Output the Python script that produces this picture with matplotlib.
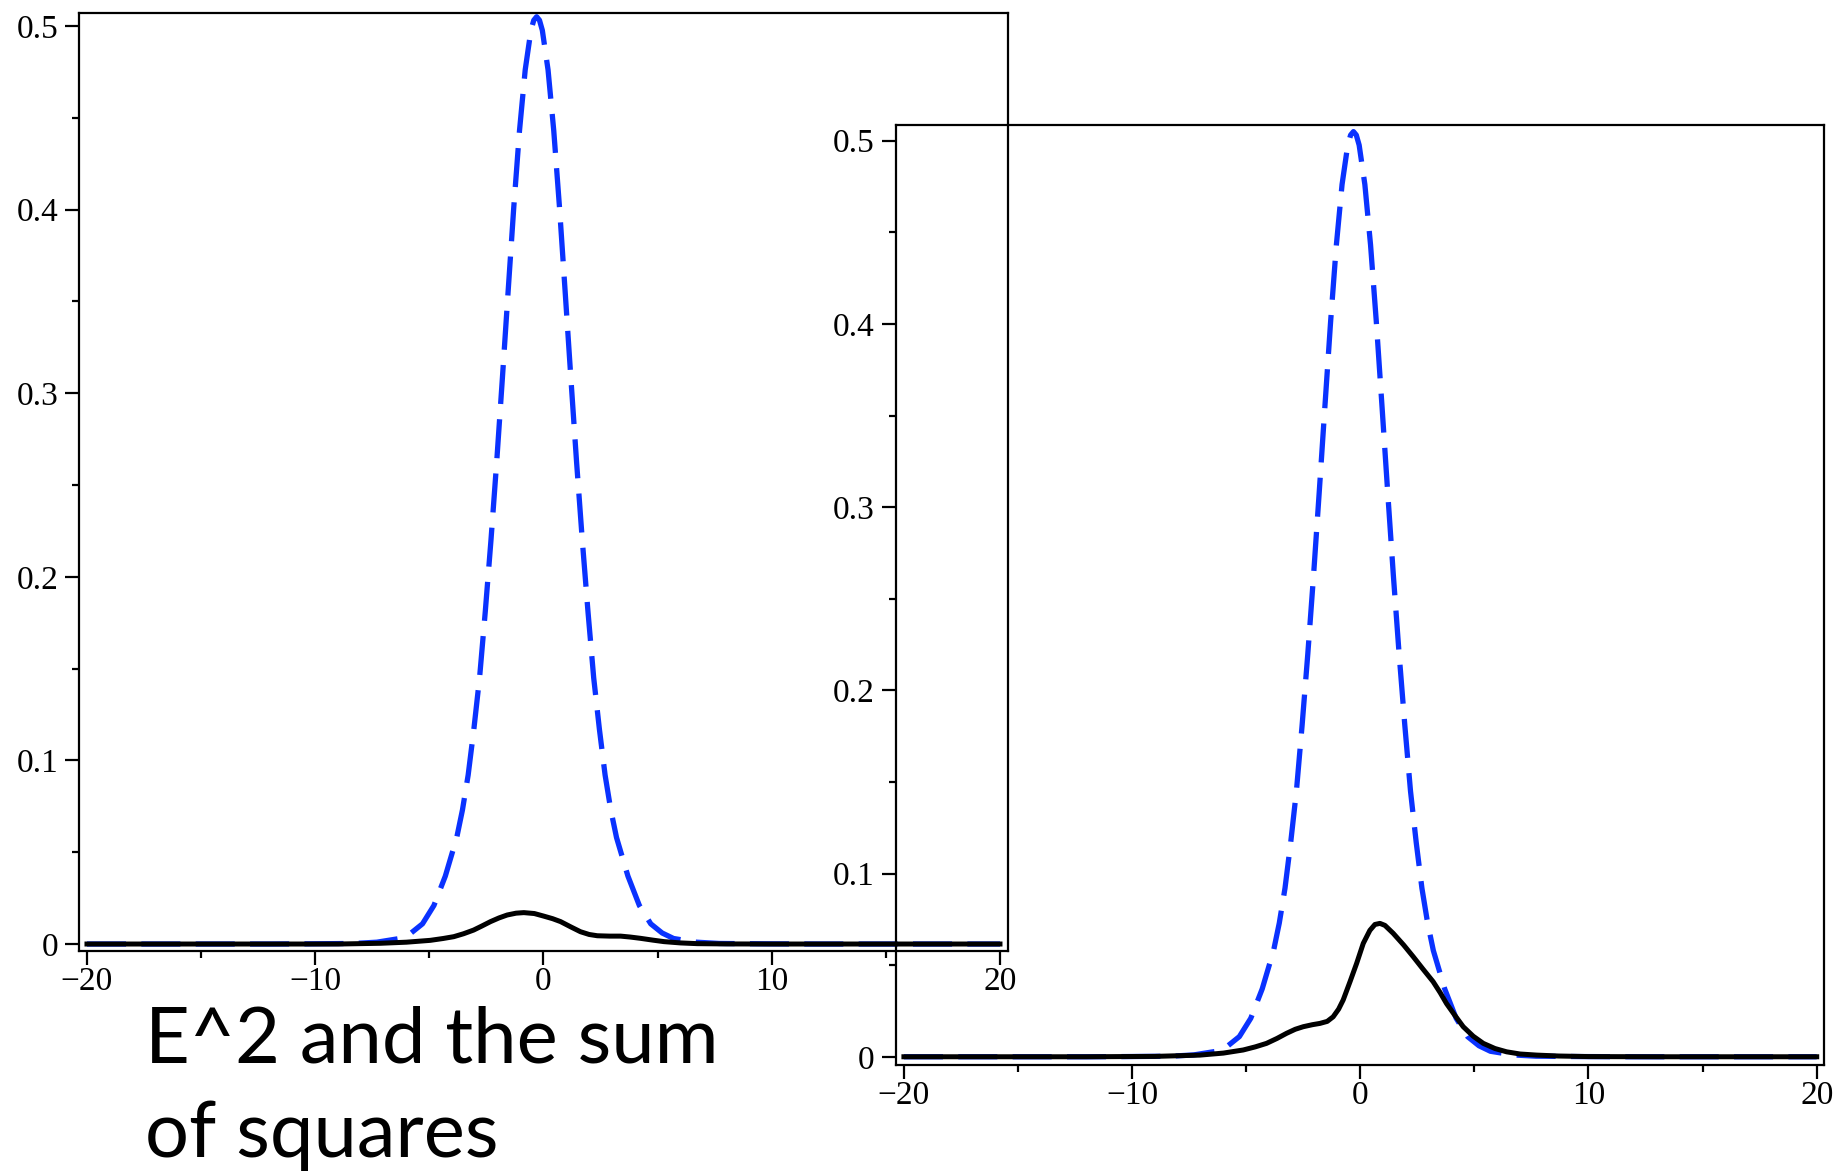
import numpy as np
import matplotlib
matplotlib.use('Agg')
import matplotlib.pyplot as plt
from matplotlib.ticker import MultipleLocator, FuncFormatter

###############################################################################

# E^2 (same curve in both panels)
e2_x = [-20, -15, -12, -10.3, -8.3, -7.3, -6.3, -5.8, -5.3, -4.8, -4.3, -3.8,
        -3.55, -3.3, -3.05, -2.8, -2.55, -2.3, -2.05, -1.8, -1.55, -1.3, -1.05,
        -0.8, -0.55, -0.425, -0.3, -0.175, -0.05, 0.2, 0.45, 0.7, 0.95, 1.2,
        1.45, 1.7, 1.95, 2.2, 2.45, 2.7, 2.95, 3.2, 3.7, 4.2, 4.7, 5.2, 5.7,
        6.7, 7.7, 9.7, 12, 15, 20]
e2_y = [0, 0, 0, 0.0001, 0.0003, 0.001, 0.003, 0.006, 0.011, 0.021, 0.037, 0.058,
        0.073, 0.092, 0.117, 0.145, 0.181, 0.220, 0.2625, 0.3082, 0.3552,
        0.4015, 0.4430, 0.4761, 0.4976, 0.5031, 0.505, 0.5031, 0.4976, 0.4761,
        0.4430, 0.4015, 0.3552, 0.3082, 0.2625, 0.220, 0.181, 0.145, 0.117,
        0.092, 0.073, 0.058, 0.037, 0.021, 0.011, 0.006, 0.003, 0.001, 0.0003,
        0.0001, 0, 0, 0]

# sum of squares, left panel
sq1_x = [-20, -12, -9, -7.15, -6, -4.96, -4.4, -3.93, -3.5, -3.06, -2.7, -2.32,
         -1.95, -1.59, -1.2, -0.86, -0.4, 0.01, 0.4, 0.75, 1.2, 1.62, 2.0, 2.36,
         2.9, 3.38, 3.8, 4.25, 4.8, 5.28, 6.0, 6.74, 8, 10, 12, 20]
sq1_y = [0, 0, 0, 0.0004, 0.001, 0.002, 0.003, 0.004, 0.0056, 0.0076, 0.0098,
         0.0122, 0.0142, 0.0158, 0.0168, 0.0171, 0.0166, 0.0152, 0.0138, 0.0122,
         0.0093, 0.0067, 0.0052, 0.0045, 0.0043, 0.0043, 0.0038, 0.0031, 0.0021,
         0.0013, 0.0006, 0.0002, 0.00005, 0, 0, 0]

# sum of squares, right panel
sq2_x = [-20, -12, -9, -7.03, -6, -5.13, -4.6, -4.11, -3.65, -3.23, -2.85, -2.5,
         -2.1, -1.77, -1.45, -1.19, -0.95, -0.75, -0.45, -0.16, 0.13, 0.42,
         0.64, 0.86, 1.08, 1.44, 1.9, 2.32, 2.75, 3.19, 3.5, 3.78, 4.15, 4.51,
         4.95, 5.39, 5.9, 6.41, 7.0, 7.73, 8.7, 10, 13, 20]
sq2_y = [0, 0, 0.0002, 0.0009, 0.002, 0.0037, 0.0054, 0.0073, 0.0100, 0.0128,
         0.0150, 0.0164, 0.0175, 0.0182, 0.0193, 0.0218, 0.0260, 0.031, 0.041,
         0.051, 0.0619, 0.069, 0.0722, 0.0728, 0.0717, 0.0674, 0.061, 0.0546,
         0.0478, 0.041, 0.035, 0.029, 0.0225, 0.0164, 0.0112, 0.0073, 0.0045,
         0.0027, 0.0015, 0.0009, 0.0004, 0.0001, 0, 0]

x_ticks = [-20, -10, 0, 10, 20]
y_ticks = [0, 0.1, 0.2, 0.3, 0.4, 0.5]

###############################################################################

blue = '#0a32ff'

def fmt_y(v, pos):
    if abs(v) < 1e-9:
        return '0'
    return '%.1f' % v

def fmt_x(v, pos):
    return ('%d' % round(v)).replace('-', '\u2212')

def style_axes(ax, xlim, ylim):
    ax.set_xlim(*xlim)
    ax.set_ylim(*ylim)
    ax.set_xticks(x_ticks)
    ax.set_yticks(y_ticks)
    ax.xaxis.set_minor_locator(MultipleLocator(5))
    ax.yaxis.set_minor_locator(MultipleLocator(0.05))
    ax.xaxis.set_major_formatter(FuncFormatter(fmt_x))
    ax.yaxis.set_major_formatter(FuncFormatter(fmt_y))
    ax.tick_params(which='major', direction='out', length=10, width=1.6,
                   labelsize=24, top=False, right=False)
    ax.tick_params(which='minor', direction='out', length=5, width=1.6,
                   top=False, right=False)
    ax.tick_params(axis='x', pad=1)
    ax.tick_params(axis='y', pad=5)
    for lab in ax.get_xticklabels() + ax.get_yticklabels():
        lab.set_fontfamily('Liberation Serif')
    for s in ax.spines.values():
        s.set_linewidth(1.6)

fig = plt.figure(figsize=(18.37, 11.72), dpi=100)

# left panel
ax1 = fig.add_axes([0.0430, 0.18857, 0.5057, 0.8006])
ax1.plot(e2_x, e2_y, color=blue, lw=3.8, dashes=(7.4, 2.9))
ax1.plot(sq1_x, sq1_y, color='black', lw=3.6)
style_axes(ax1, (-20.35, 20.35), (-0.0038, 0.5072))

# right panel, drawn over the left one without background
ax2 = fig.add_axes([0.48759, 0.0913, 0.50533, 0.80205])
ax2.patch.set_visible(False)
ax2.plot(e2_x, e2_y, color=blue, lw=3.8, dashes=(7.4, 2.9))
ax2.plot(sq2_x, sq2_y, color='black', lw=3.6)
style_axes(ax2, (-20.36, 20.32), (-0.0045, 0.5086))

fig.text(0.079, 0.0128, 'E^2 and the sum\nof squares', fontsize=56,
         family='Lato', ha='left', va='baseline', linespacing=1.41)

fig.savefig('out.png', dpi=100)
